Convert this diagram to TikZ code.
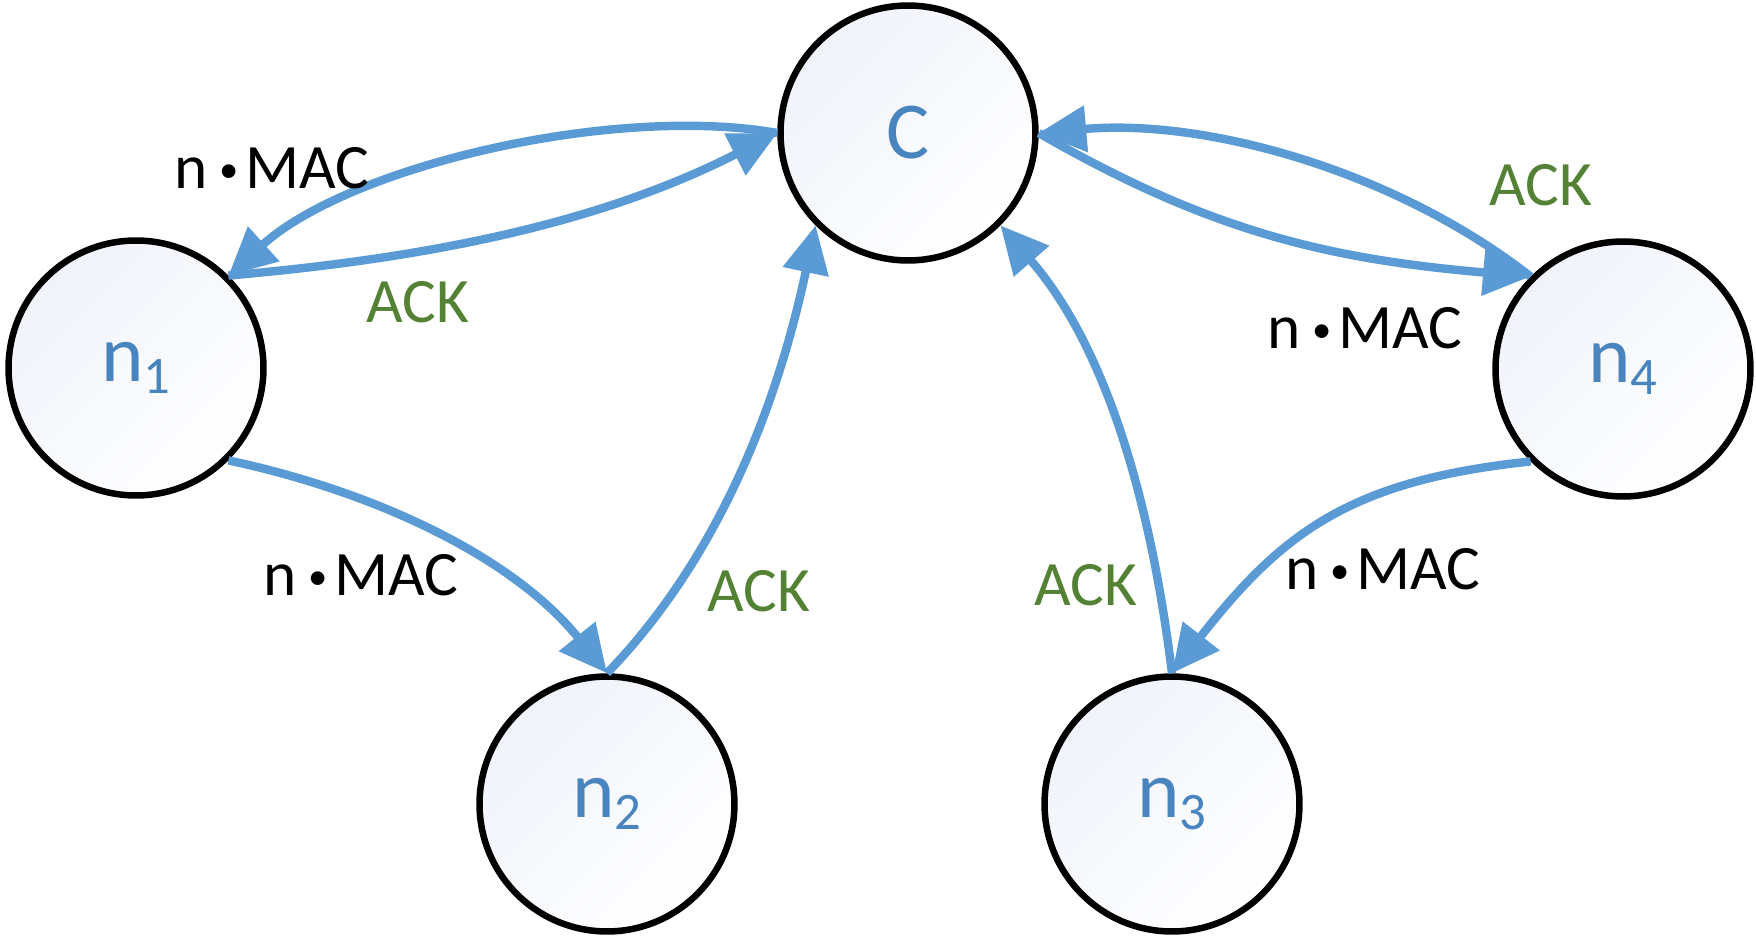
\documentclass[tikz,border=0pt]{standalone}
\usepackage{fontspec}
\setmainfont{Carlito}
\usetikzlibrary{arrows.meta}
\definecolor{linkblue}{HTML}{5B9BD5}
\definecolor{labelblue}{RGB}{72,132,190}
\definecolor{ackgreen}{HTML}{548235}
\definecolor{nodeshade}{HTML}{F0F3FA}
\newcommand\stationsub[1]{n\raisebox{-0.24cm}{\fontsize{30}{30}\selectfont #1}}
\newcommand\nmac{n\kern0.24cm\raisebox{0.12cm}{\fontsize{22}{22}\selectfont •}\kern0.13cm MAC}
\begin{document}
\begin{tikzpicture}[x=0.02cm,y=0.02cm,
  station/.style={circle, draw=black, line width=3.7pt, minimum size=5.1cm,
    inner sep=0pt, top color=nodeshade, bottom color=white, shading angle=45,
    text=labelblue, font=\fontsize{46}{50}\selectfont},
  link/.style={draw=linkblue, line width=4.8pt,
    -{Triangle[length=0.95cm,width=0.9cm]}},
  maclabel/.style={font=\fontsize{36}{40}\selectfont, text=black},
  acklabel/.style={font=\fontsize{36}{40}\selectfont, text=ackgreen}]
\useasboundingbox (0,0) rectangle (1756,938);

% stations
\node[station] (C)  at (908,805)  {C};
\node[station] (n1) at (136,570)  {\stationsub{1}};
\node[station] (n2) at (607,134)  {\stationsub{2}};
\node[station] (n3) at (1172,134) {\stationsub{3}};
\node[station] (n4) at (1623,569) {\stationsub{4}};

% links between C and n1
\draw[link] (C.west) to[out=170,in=42,out distance=3.3cm,in distance=3.3cm] (n1.45);
\draw[link] (n1.45) to[out=5,in=207,out distance=4cm,in distance=4cm] (C.west);
% n1 -> n2 -> C
\draw[link] (n1.-45) to[out=-12,in=129,out distance=3cm,in distance=3cm] (n2.north);
\draw[link] (n2.north) to[out=46,in=258,out distance=3.4cm,in distance=3.4cm] (C.225);
% n4 -> n3 -> C
\draw[link] (n3.north) to[out=97,in=-49,out distance=3.3cm,in distance=3.3cm] (C.-45);
\draw[link] (n4.225) to[out=186,in=52,out distance=3.6cm,in distance=3.6cm] (n3.north);
% links between C and n4
\draw[link] (n4.135) to[out=142,in=5,out distance=3.4cm,in distance=3.4cm] (C.east);
\draw[link] (C.east) to[out=-30,in=175,out distance=4cm,in distance=4cm] (n4.135);

% message labels
\node[maclabel] (m1) at (272,770)  {\nmac};
\node[acklabel] (a1) at (418,636)  {ACK};
\node[maclabel] (m2) at (361,363)  {\nmac};
\node[acklabel] (a2) at (759,347)  {ACK};
\node[acklabel] (a3) at (1086,353) {ACK};
\node[maclabel] (m3) at (1383,369) {\nmac};
\node[acklabel] (a4) at (1541,753) {ACK};
\node[maclabel] (m4) at (1365,610) {\nmac};
\end{tikzpicture}
\end{document}
